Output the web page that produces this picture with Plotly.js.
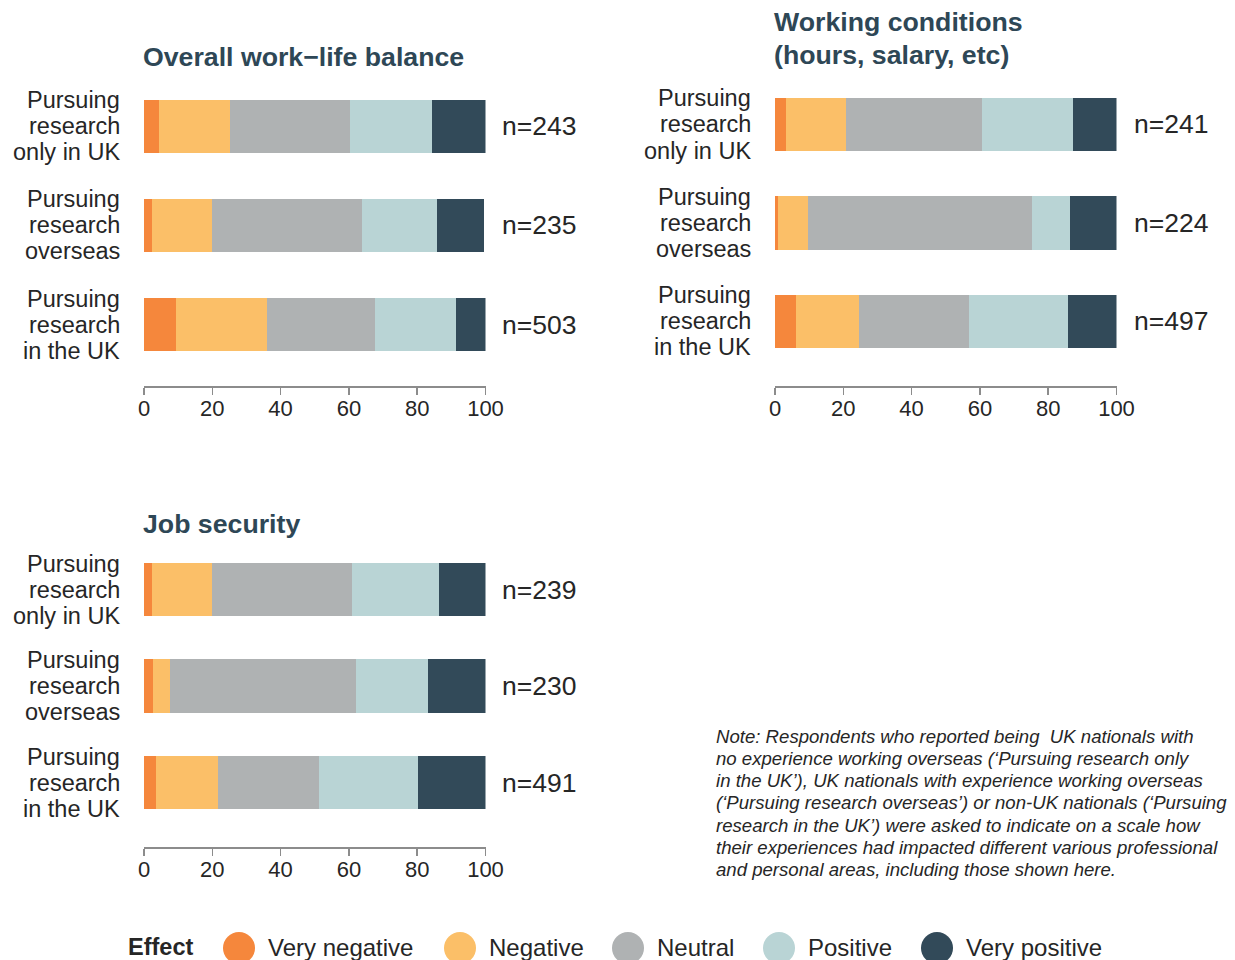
<!DOCTYPE html>
<html>
<head>
<meta charset="utf-8">
<script src="https://cdn.plot.ly/plotly-3.0.1.min.js"></script>
<style>html,body{margin:0;padding:0;background:#fff;}#chart{width:1235px;height:960px;}</style>
</head>
<body>
<div id="chart"></div>
<script>
// ---------- data ----------
const categories = ["Pursuing research only in UK", "Pursuing research overseas", "Pursuing research in the UK"];
const categoryLines = [["Pursuing", "research", "only in UK"], ["Pursuing", "research", "overseas"], ["Pursuing", "research", "in the UK"]];
const effects = ["Very negative", "Negative", "Neutral", "Positive", "Very positive"];
const effectColors = ["#F5873C", "#FBBF68", "#AFB2B3", "#B9D4D5", "#324A59"];

const chartTitles = [["Overall work\u2212life balance"], ["Working conditions", "(hours, salary, etc)"], ["Job security"]];

// Overall work-life balance (% of respondents)
const wlbVeryNegative = [4.4, 2.3, 9.4];
const wlbNegative     = [20.7, 17.6, 26.6];
const wlbNeutral      = [35.1, 43.8, 31.5];
const wlbPositive     = [24.0, 22.0, 24.0];
const wlbVeryPositive = [15.8, 14.0, 8.5];
const wlbN = [243, 235, 503];

// Working conditions
const wcVeryNegative = [3.2, 0.9, 6.1];
const wcNegative     = [17.6, 8.7, 18.5];
const wcNeutral      = [39.7, 65.8, 32.1];
const wcPositive     = [26.9, 11.1, 29.0];
const wcVeryPositive = [12.6, 13.5, 14.3];
const wcN = [241, 224, 497];

// Job security
const jsVeryNegative = [2.3, 2.6, 3.5];
const jsNegative     = [17.6, 5.0, 18.1];
const jsNeutral      = [40.9, 54.4, 29.6];
const jsPositive     = [25.7, 21.3, 28.9];
const jsVeryPositive = [13.5, 16.7, 19.9];
const jsN = [239, 230, 491];

const xTicks = [0, 20, 40, 60, 80, 100];

const noteLines = [
  "Note: Respondents who reported being  UK nationals with",
  "no experience working overseas (\u2018Pursuing research only",
  "in the UK\u2019), UK nationals with experience working overseas",
  "(\u2018Pursuing research overseas\u2019) or non-UK nationals (\u2018Pursuing",
  "research in the UK\u2019) were asked to indicate on a scale how",
  "their experiences had impacted different various professional",
  "and personal areas, including those shown here."
];

// ---------- build ----------
const W = 1235, H = 960;
const px = v => v / W;
const py = v => 1 - v / H;
const FONT = "Liberation Sans, Arial, sans-serif";
const TEXT = "#262626";
const TITLE = "#2E4756";

const panels = [
  {series: [wlbVeryNegative, wlbNegative, wlbNeutral, wlbPositive, wlbVeryPositive], n: wlbN, xa: "x", ya: "y", width: 0.535,
   xd: [144, 485.5], yd: [386, 76.5], yr: [-0.62, 2.5], labelX: 122, nX: 500, title: chartTitles[0], titleY: 57},
  {series: [wcVeryNegative, wcNegative, wcNeutral, wcPositive, wcVeryPositive], n: wcN, xa: "x2", ya: "y2", width: 0.54,
   xd: [775, 1116.5], yd: [386, 75.25], yr: [-0.655, 2.5], labelX: 753, nX: 1132, title: chartTitles[1], titleY: 22},
  {series: [jsVeryNegative, jsNegative, jsNeutral, jsPositive, jsVeryPositive], n: jsN, xa: "x3", ya: "y3", width: 0.55,
   xd: [144, 485.5], yd: [847, 541.25], yr: [-0.668, 2.5], labelX: 122, nX: 500, title: chartTitles[2], titleY: 524}
];

const traces = [];
const annotations = [];
const shapes = [];
const layout = {
  width: W, height: H,
  margin: {l: 0, r: 0, t: 0, b: 0},
  paper_bgcolor: "#fff", plot_bgcolor: "#fff",
  barmode: "stack",
  showlegend: false,
  font: {family: FONT, color: TEXT}
};

panels.forEach((p, pi) => {
  p.series.forEach((vals, si) => {
    traces.push({
      type: "bar", orientation: "h",
      x: vals, y: categories,
      name: effects[si],
      xaxis: p.xa, yaxis: p.ya,
      width: p.width,
      marker: {color: effectColors[si], line: {width: 0}},
      hoverinfo: "x+y+name"
    });
  });
  const xk = "xaxis" + (pi === 0 ? "" : pi + 1);
  const yk = "yaxis" + (pi === 0 ? "" : pi + 1);
  layout[xk] = {
    domain: [px(p.xd[0]), px(p.xd[1])],
    anchor: p.ya, range: [0, 100],
    tickvals: xTicks, ticktext: xTicks.map(String),
    showline: true, linecolor: "#8C8C8C", linewidth: 1.5,
    ticks: "outside", ticklen: 7, tickcolor: "#8C8C8C", tickwidth: 1.5,
    ticklabelstandoff: -5,
    showgrid: false, zeroline: false,
    tickfont: {family: FONT, size: 22, color: TEXT},
    fixedrange: true
  };
  layout[yk] = {
    domain: [py(p.yd[0]), py(p.yd[1])],
    anchor: p.xa, type: "category",
    categoryorder: "array", categoryarray: categories.slice().reverse(),
    range: p.yr,
    showline: false, ticks: "", showticklabels: false,
    showgrid: false, zeroline: false, fixedrange: true
  };
  categories.forEach((c, ci) => {
    categoryLines[ci].forEach((line, li) => {
      annotations.push({
        xref: "paper", yref: p.ya, x: px(p.labelX), y: c,
        xanchor: "right", yanchor: "middle", yshift: (1 - li) * 26,
        text: line, showarrow: false,
        font: {family: FONT, size: 23.5, color: TEXT}
      });
    });
    annotations.push({
      xref: "paper", yref: p.ya, x: px(p.nX), y: c,
      xanchor: "left", yanchor: "middle",
      text: "n=" + p.n[ci], showarrow: false,
      font: {family: FONT, size: 26.5, color: TEXT}
    });
  });
  p.title.forEach((line, li) => {
    annotations.push({
      xref: "paper", yref: "paper", x: px(p.xd[0] - 3), y: py(p.titleY + li * 33),
      xanchor: "left", yanchor: "middle", align: "left",
      text: "<b>" + line + "</b>", showarrow: false,
      font: {family: FONT, size: 26.7, color: TITLE}
    });
  });
});

// note, one annotation per line
noteLines.forEach((line, i) => {
  annotations.push({
    xref: "paper", yref: "paper", x: px(714), y: py(736 + i * 22.3),
    xanchor: "left", yanchor: "middle", align: "left",
    text: "<i>" + line + "</i>", showarrow: false,
    font: {family: FONT, size: 18.6, color: TEXT}
  });
});

// legend (custom, circles)
const legY = 947;
annotations.push({
  xref: "paper", yref: "paper", x: px(126), y: py(legY),
  xanchor: "left", yanchor: "middle",
  text: "<b>Effect</b>", showarrow: false,
  font: {family: FONT, size: 23.5, color: TEXT}
});
const legCircleX = [239, 460, 628, 779, 937];
effects.forEach((e, i) => {
  const cx = legCircleX[i];
  shapes.push({
    type: "circle", xref: "paper", yref: "paper",
    x0: px(cx - 16), x1: px(cx + 16), y0: py(legY + 17), y1: py(legY - 15),
    fillcolor: effectColors[i], line: {width: 0}
  });
  annotations.push({
    xref: "paper", yref: "paper", x: px(cx + 27), y: py(legY),
    xanchor: "left", yanchor: "middle",
    text: e, showarrow: false,
    font: {family: FONT, size: 24, color: TEXT}
  });
});

layout.annotations = annotations;
layout.shapes = shapes;

Plotly.newPlot("chart", traces, layout, {displayModeBar: false, staticPlot: true});
</script>
</body>
</html>
